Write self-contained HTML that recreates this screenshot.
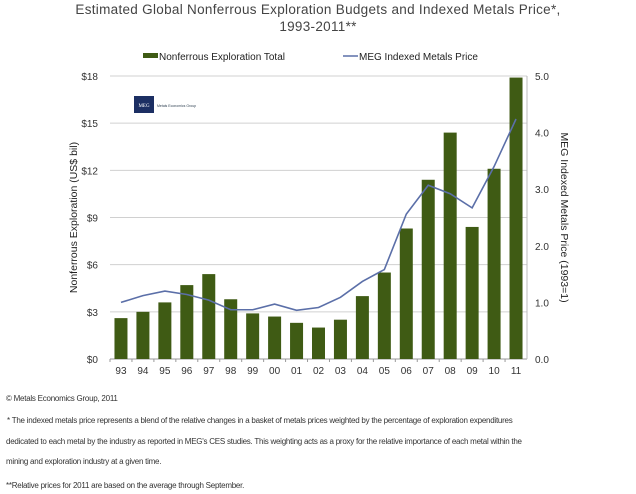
<!DOCTYPE html>
<html><head><meta charset="utf-8"><style>
body{margin:0;background:#fff;width:636px;height:494px;overflow:hidden;font-family:"Liberation Sans",sans-serif}
.t{position:absolute;left:0;width:636px;text-align:center;color:#444;font-size:13.5px;letter-spacing:0.3px}
.f{position:absolute;left:6px;font-size:8px;color:#333;white-space:nowrap;letter-spacing:-0.25px}
</style></head><body>
<div class="t" style="top:2px">Estimated Global Nonferrous Exploration Budgets and Indexed Metals Price*,</div>
<div class="t" style="top:19px">1993-2011**</div>
<svg id="c" width="636" height="380" style="position:absolute;left:0;top:0"></svg>
<div class="f" style="top:394px">© Metals Economics Group, 2011</div>
<div class="f" style="top:416px;left:7px">* The indexed metals price represents a blend of the relative changes in a basket of metals prices weighted by the percentage of exploration expenditures</div>
<div class="f" style="top:437px">dedicated to each metal by the industry as reported in MEG's CES studies. This weighting acts as a proxy for the relative importance of each metal within the</div>
<div class="f" style="top:457px">mining and exploration industry at a given time.</div>
<div class="f" style="top:481px">**Relative prices for 2011 are based on the average through September.</div>
<script>
const categories=["93","94","95","96","97","98","99","00","01","02","03","04","05","06","07","08","09","10","11"];
const exploration=[2.6,3.0,3.6,4.7,5.4,3.8,2.9,2.7,2.3,2.0,2.5,4.0,5.5,8.3,11.4,14.4,8.4,12.1,17.9];
const metalsIndex=[1.0,1.12,1.2,1.14,1.04,0.87,0.87,0.97,0.86,0.91,1.09,1.37,1.58,2.56,3.07,2.92,2.67,3.4,4.24];
const leftTicks=[0,3,6,9,12,15,18];
const rightTicks=[0,1,2,3,4,5];
const NS="http://www.w3.org/2000/svg";
const svg=document.getElementById('c');
const X0=110,X1=527,Y0=359,Y1=76;
const band=(X1-X0)/categories.length;
const yL=v=>Y0-(v/18)*(Y0-Y1);
const yR=v=>Y0-(v/5)*(Y0-Y1);
const xC=i=>X0+band*(i+0.5);
function el(t,a,txt){const e=document.createElementNS(NS,t);for(const k in a)e.setAttribute(k,a[k]);if(txt!=null)e.textContent=txt;svg.appendChild(e);return e;}
leftTicks.forEach(v=>{
 const g=el('line',{x1:X0,x2:X1,y1:yL(v),y2:yL(v),stroke:v===0?'#999':'#d0d0d0','stroke-width':1});
 
 
 const t=el('text',{x:X0-12,y:yL(v)+4,'text-anchor':'end','font-size':10,fill:'#333'},'$'+v);
 
 
});
rightTicks.forEach(v=>{
 const t=el('text',{x:X1+8,y:yR(v)+4,'font-size':10,fill:'#333'},v.toFixed(1));
 
 
});
el('line',{x1:X1,x2:X1,y1:Y1,y2:Y0,stroke:'#bbb'});
categories.forEach((c,i)=>{
 const w=13,h=Y0-yL(exploration[i]);
 const b=el('rect',{x:xC(i)-w/2,y:yL(exploration[i]),width:w,height:h,fill:'#3f5b14'});
 
 
 const t=el('text',{x:xC(i),y:Y0+15,'text-anchor':'middle','font-size':10,fill:'#333'},c);
 
 
 el('line',{x1:X0+band*i,x2:X0+band*i,y1:Y0,y2:Y0+3,stroke:'#999'});
});
const pl=el('polyline',{points:metalsIndex.map((v,i)=>xC(i)+','+yR(v)).join(' '),fill:'none',stroke:'#5b6fa8','stroke-width':1.6});


const ly=el('text',{transform:'translate(77,'+((Y0+Y1)/2)+') rotate(-90)','text-anchor':'middle','font-size':10.5,fill:'#222'},'Nonferrous Exploration (US$ bil)');


const ry=el('text',{transform:'translate(561,'+((Y0+Y1)/2)+') rotate(90)','text-anchor':'middle','font-size':10.5,fill:'#222'},'MEG Indexed Metals Price  (1993=1)');


const l1=el('rect',{x:143,y:53,width:15,height:5,fill:'#3f5b14'});


const lt1=el('text',{x:159,y:60,'font-size':10,fill:'#222'},'Nonferrous Exploration Total');


const l2=el('line',{x1:343,x2:358,y1:56,y2:56,stroke:'#5b6fa8','stroke-width':1.5});


const lt2=el('text',{x:359,y:60,'font-size':10,fill:'#222'},'MEG Indexed Metals Price');


const lg=el('rect',{x:134,y:96,width:20,height:17,fill:'#1c2f63'});


el('text',{x:144,y:107,'text-anchor':'middle','font-size':5,fill:'#fff','font-family':'Liberation Serif'},'MEG');
el('text',{x:157,y:107,'font-size':3.5,fill:'#345'},'Metals Economics Group');
</script>
</body></html>
